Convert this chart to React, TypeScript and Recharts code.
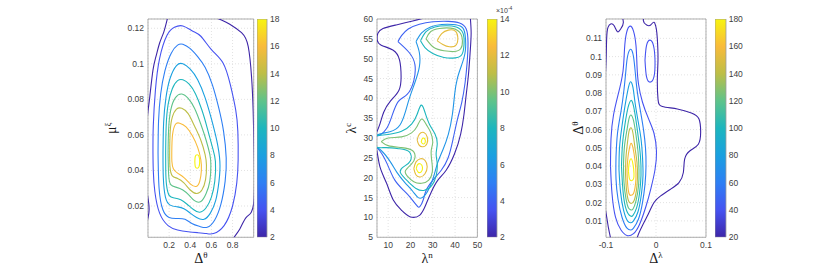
import React from 'react'
import {
  LineChart,
  Line,
  XAxis,
  YAxis,
  CartesianGrid,
  ReferenceArea,
  BarChart,
  Bar,
} from 'recharts'

type Pt = [number, number]
type Contour = { level: number; pts: Pt[]; closed: boolean }

// ---------- panel 1 : mu^xi vs Delta^theta ----------
const p1XTicks = [0.2, 0.4, 0.6, 0.8]
const p1YTicks = [0.02, 0.04, 0.06, 0.08, 0.1, 0.12]
const p1BarTicks = [2, 4, 6, 8, 10, 12, 14, 16, 18]

const p1Lvl2a: Pt[] = [[0.19, 0.127], [0.15, 0.118], [0.11, 0.1117], [0.075, 0.104], [0.047, 0.0964], [0.016, 0.081], [0, 0.0734], [-0.02, 0.062]]
const p1Lvl2b: Pt[] = [[0.6, 0.127], [0.7, 0.1245], [0.774, 0.1223], [0.885, 0.1175], [0.948, 0.1098], [0.98, 0.0925], [0.995, 0.0734], [1.005, 0.05], [1.0, 0.0215], [0.932, 0.0138], [0.869, 0.0071], [0.806, 0.0015], [0.79, -0.004]]
const p1Lvl2c: Pt[] = [[-0.02, 0.032], [0.006, 0.022], [0.008, 0.016], [-0.02, 0.008]]
const p1Lvl4: Pt[] = [[0.047, 0.05], [0.05, 0.065], [0.07, 0.085], [0.11, 0.103], [0.18, 0.116], [0.25, 0.1205], [0.33, 0.1213], [0.42, 0.1185], [0.5, 0.1155], [0.6, 0.108], [0.71, 0.1005], [0.78, 0.088], [0.83, 0.074], [0.85, 0.062], [0.853, 0.046], [0.84, 0.033], [0.8, 0.02], [0.72, 0.009], [0.62, 0.0045], [0.553, 0.0045], [0.47, 0.005], [0.38, 0.0055], [0.28, 0.0065], [0.19, 0.009], [0.11, 0.016], [0.065, 0.028], [0.05, 0.04]]
const p1Lvl6: Pt[] = [[0.095, 0.05], [0.1, 0.068], [0.12, 0.083], [0.16, 0.096], [0.22, 0.106], [0.28, 0.1105], [0.33, 0.111], [0.4, 0.1085], [0.47, 0.104], [0.54, 0.098], [0.61, 0.088], [0.67, 0.075], [0.715, 0.062], [0.74, 0.047], [0.73, 0.034], [0.69, 0.021], [0.63, 0.012], [0.56, 0.008], [0.49, 0.0085], [0.42, 0.01], [0.35, 0.0125], [0.28, 0.013], [0.2, 0.0135], [0.14, 0.018], [0.105, 0.03]]
const p1Lvl8: Pt[] = [[0.142, 0.05], [0.148, 0.067], [0.17, 0.081], [0.21, 0.092], [0.27, 0.099], [0.33, 0.1], [0.4, 0.097], [0.47, 0.091], [0.54, 0.081], [0.6, 0.069], [0.65, 0.057], [0.68, 0.045], [0.672, 0.034], [0.64, 0.023], [0.59, 0.016], [0.53, 0.0125], [0.46, 0.0135], [0.4, 0.016], [0.34, 0.0185], [0.28, 0.0195], [0.21, 0.0205], [0.165, 0.025], [0.145, 0.036]]
const p1Lvl10: Pt[] = [[0.167, 0.05], [0.172, 0.065], [0.19, 0.077], [0.23, 0.086], [0.28, 0.0905], [0.33, 0.091], [0.39, 0.0885], [0.45, 0.083], [0.51, 0.074], [0.56, 0.064], [0.61, 0.053], [0.638, 0.045], [0.632, 0.034], [0.6, 0.025], [0.55, 0.019], [0.49, 0.0165], [0.43, 0.018], [0.37, 0.021], [0.31, 0.0235], [0.25, 0.0245], [0.2, 0.026], [0.175, 0.032], [0.168, 0.04]]
const p1Lvl12: Pt[] = [[0.19, 0.05], [0.195, 0.063], [0.215, 0.074], [0.26, 0.081], [0.32, 0.083], [0.38, 0.0805], [0.44, 0.075], [0.5, 0.066], [0.55, 0.057], [0.585, 0.049], [0.595, 0.043], [0.585, 0.034], [0.55, 0.027], [0.5, 0.0225], [0.44, 0.023], [0.39, 0.026], [0.33, 0.029], [0.27, 0.0305], [0.215, 0.032], [0.195, 0.038]]
const p1Lvl14: Pt[] = [[0.205, 0.05], [0.21, 0.062], [0.23, 0.07], [0.27, 0.0745], [0.32, 0.075], [0.38, 0.072], [0.44, 0.065], [0.5, 0.057], [0.54, 0.049], [0.553, 0.043], [0.545, 0.035], [0.51, 0.029], [0.46, 0.027], [0.4, 0.029], [0.34, 0.033], [0.28, 0.0355], [0.23, 0.037], [0.208, 0.042]]
const p1Lvl16: Pt[] = [[0.225, 0.05], [0.232, 0.06], [0.26, 0.066], [0.3, 0.0666], [0.36, 0.0645], [0.42, 0.0595], [0.47, 0.053], [0.5, 0.046], [0.505, 0.04], [0.49, 0.034], [0.455, 0.031], [0.4, 0.0325], [0.34, 0.036], [0.28, 0.0385], [0.24, 0.041], [0.226, 0.045]]
const p1Lvl18: Pt[] = [[0.443, 0.045], [0.448, 0.048], [0.465, 0.0488], [0.482, 0.048], [0.489, 0.045], [0.482, 0.042], [0.465, 0.0412], [0.448, 0.042]]

// ---------- panel 2 : lambda^c vs lambda^n ----------
const p2XTicks = [10, 20, 30, 40, 50]
const p2YTicks = [5, 10, 15, 20, 25, 30, 35, 40, 45, 50, 55, 60]
const p2BarTicks = [2, 4, 6, 8, 10, 12, 14]

const p2Lvl2: Pt[] = [[27.7, 60.5], [21, 59.5], [13.6, 58.5], [7.7, 57.6], [5.4, 56.4], [5.1, 54.7], [6.9, 53.4], [12.1, 52.2], [15.1, 49.7], [15.8, 45.5], [14.8, 42], [11, 39.3], [8, 36.5], [6.3, 33.5], [4.5, 31], [3.5, 29], [4.85, 27], [6.3, 22.8], [9.3, 18.6], [12.3, 14.4], [16, 11.8], [19.7, 10.2], [24.2, 10.6], [27.1, 13.5], [29.4, 16.5], [32.3, 19.4], [36, 21.9], [39.8, 26.1], [42.5, 31], [44, 36], [45, 41], [46, 46], [46.8, 52], [47.2, 56.5], [46.8, 60.5]]
const p2Lvl4: Pt[] = [[14.4, 54.3], [16, 55.8], [19, 57.5], [24, 58.7], [30, 59.3], [37, 59.4], [42, 59], [45, 57.5], [45.8, 54], [45.4, 49], [44.5, 44], [43, 39], [41, 34.6], [39, 29.5], [36.8, 24.9], [33.8, 21.9], [30.1, 19.4], [27.1, 16.9], [25.7, 14.4], [24.2, 12.7], [22.7, 13.1], [19.7, 15.2], [16.8, 16.9], [13, 19.4], [10.1, 22.8], [7.1, 26.1], [4.5, 27.9], [3.5, 29], [4.5, 30.4], [6.4, 30.8], [9.3, 32.4], [11.6, 35.4], [14.5, 39.2], [18.5, 41], [21.5, 44.5], [22, 48.5], [19.5, 51.5]]
const p2Lvl6: Pt[] = [[22.5, 54.3], [25, 56.5], [29, 58], [34, 58.6], [39, 58.6], [43, 58], [44.5, 56], [44.6, 52], [43, 48.5], [41, 45], [39.8, 41], [38.8, 36], [37, 31], [34.5, 27], [32.2, 23.8], [30.5, 20.5], [28.5, 17.5], [26, 15.3], [23.5, 15], [21, 16.6], [17.5, 18.8], [14, 21.3], [11, 24], [7, 26.8], [4, 28.2], [4, 30.5], [10.8, 31.6], [15.3, 33.3], [17.5, 36.2], [19.5, 40], [22, 44], [24, 48], [24, 51.5]]
const p2Lvl8Top: Pt[] = [[24.5, 54.5], [27, 56.8], [31, 58], [36, 58.3], [40.5, 58], [43.5, 56.5], [44, 53.5], [43, 51], [40, 50.2], [35, 50.3], [30, 51.3], [26.5, 52.8]]
const p2Lvl8Low: Pt[] = [[4, 30.6], [10, 30.9], [16, 31.7], [20.5, 33.5], [23, 36], [24.8, 38.3], [26.5, 36.5], [28.5, 33.5], [31, 31], [32, 28.5], [31.5, 26], [32, 23.5], [31.5, 20.5], [29.5, 18], [26, 16.8], [22.5, 17.3], [19, 19], [15.5, 21.3], [17, 22.8], [20, 24.3], [19.5, 26.5], [15, 27.3], [9, 27.6], [4, 27.9]]
const p2Lvl10Top: Pt[] = [[27, 55], [29, 56.8], [33, 57.6], [38, 57.7], [42, 56.7], [43.3, 54.5], [42.5, 52.5], [39.5, 51.8], [35, 52], [30.5, 52.8]]
const p2Lvl10Low: Pt[] = [[6.9, 29.1], [10, 30], [16, 30.3], [20.5, 31.3], [23, 33], [25, 34.8], [27, 33.5], [29, 31.5], [30, 29], [29.3, 26.8], [29.6, 24], [29.8, 21.5], [28.2, 19.4], [25, 18.6], [21.5, 19], [18.5, 20.5], [17.8, 21.8], [20.5, 23.5], [22, 25], [21, 26.8], [16, 27.6], [10, 28.1]]
const p2Lvl12Top: Pt[] = [[32, 54.5], [34, 56.3], [37, 57.2], [40, 57], [41.2, 55.5], [40.5, 53.5], [37.5, 53], [34.5, 53.6]]
const p2Lvl12a: Pt[] = [[23, 29.5], [24, 31], [26, 31.4], [27.5, 30.3], [27.4, 28.6], [25.5, 27.8], [23.8, 28.3]]
const p2Lvl12b: Pt[] = [[21.5, 22.3], [22.5, 20.7], [24.5, 20.2], [26.5, 21], [27.5, 22.8], [26.5, 24.4], [24.5, 24.8], [22.5, 24]]
const p2Lvl14a: Pt[] = [[24.8, 29], [25.4, 29.9], [26.4, 29.8], [26.6, 28.9], [25.7, 28.5]]
const p2Lvl14b: Pt[] = [[22.6, 22.3], [23.5, 21.4], [24.8, 21.5], [25.4, 22.6], [24.5, 23.5], [23.2, 23.3]]

// ---------- panel 3 : Delta^theta vs Delta^lambda ----------
const p3XTicks = [-0.1, 0, 0.1]
const p3YTicks = [0.01, 0.02, 0.03, 0.04, 0.05, 0.06, 0.07, 0.08, 0.09, 0.1, 0.11]
const p3BarTicks = [20, 40, 60, 80, 100, 120, 140, 160, 180]

const p3Lvl20a: Pt[] = [[-0.106, 0.0767], [-0.1007, 0.093], [-0.0987, 0.1096], [-0.096, 0.116], [-0.0907, 0.1179], [-0.084, 0.117], [-0.0773, 0.1137], [-0.0707, 0.1151], [-0.0653, 0.1188], [-0.062, 0.123], [-0.03, 0.123], [-0.0253, 0.1197], [-0.0187, 0.1173], [-0.0107, 0.1173], [-0.004, 0.1188], [0.0007, 0.1151], [0.0027, 0.1096], [0.004, 0.0987], [0.0027, 0.0877], [0.004, 0.0767], [0.0127, 0.0727], [0.0427, 0.0713], [0.0707, 0.0691], [0.086, 0.0658], [0.0893, 0.0585], [0.0847, 0.052], [0.068, 0.0484], [0.0573, 0.0438], [0.0547, 0.0365], [0.046, 0.031], [0.0293, 0.0274], [0.0093, 0.0237], [-0.004, 0.0201], [-0.014, 0.0146], [-0.0273, 0.0073], [-0.0373, 0.001], [-0.04, -0.004]]
const p3Lvl20b: Pt[] = [[-0.104, 0.02], [-0.0985, 0.012], [-0.095, 0.006], [-0.0905, 0.0], [-0.089, -0.004]]
const p3Lvl40: Pt[] = [[-0.091, 0.04], [-0.09, 0.055], [-0.085, 0.068], [-0.075, 0.08], [-0.066, 0.092], [-0.063, 0.104], [-0.059, 0.113], [-0.052, 0.1167], [-0.045, 0.114], [-0.04, 0.106], [-0.038, 0.095], [-0.035, 0.085], [-0.027, 0.075], [-0.015, 0.066], [-0.004, 0.058], [0.001, 0.048], [-0.002, 0.038], [-0.01, 0.028], [-0.02, 0.018], [-0.033, 0.008], [-0.045, 0.003], [-0.058, 0.002], [-0.07, 0.005], [-0.081, 0.012], [-0.088, 0.025]]
const p3Lvl40b: Pt[] = [[-0.022, 0.098], [-0.019, 0.106], [-0.012, 0.109], [-0.005, 0.106], [-0.002, 0.098], [-0.004, 0.089], [-0.012, 0.086], [-0.019, 0.089]]
const p3Lvl60: Pt[] = [[-0.08, 0.045], [-0.077, 0.058], [-0.07, 0.07], [-0.064, 0.082], [-0.06, 0.093], [-0.057, 0.1], [-0.051, 0.104], [-0.045, 0.1], [-0.041, 0.09], [-0.037, 0.08], [-0.031, 0.07], [-0.025, 0.06], [-0.021, 0.05], [-0.02, 0.04], [-0.022, 0.03], [-0.027, 0.02], [-0.035, 0.011], [-0.045, 0.006], [-0.05, 0.005], [-0.058, 0.006], [-0.068, 0.012], [-0.076, 0.022], [-0.08, 0.033]]
const p3Lvl80: Pt[] = [[-0.074, 0.038], [-0.073, 0.05], [-0.068, 0.062], [-0.062, 0.073], [-0.056, 0.082], [-0.051, 0.0862], [-0.046, 0.083], [-0.042, 0.075], [-0.036, 0.065], [-0.03, 0.055], [-0.027, 0.045], [-0.026, 0.035], [-0.029, 0.025], [-0.036, 0.015], [-0.045, 0.01], [-0.05, 0.009], [-0.057, 0.01], [-0.065, 0.016], [-0.071, 0.026]]
const p3Lvl100: Pt[] = [[-0.069, 0.04], [-0.067, 0.052], [-0.062, 0.063], [-0.056, 0.072], [-0.05, 0.076], [-0.045, 0.073], [-0.04, 0.065], [-0.035, 0.055], [-0.031, 0.045], [-0.03, 0.035], [-0.033, 0.025], [-0.039, 0.017], [-0.046, 0.013], [-0.05, 0.0125], [-0.056, 0.014], [-0.063, 0.02], [-0.067, 0.03]]
const p3Lvl120: Pt[] = [[-0.065, 0.041], [-0.063, 0.051], [-0.058, 0.06], [-0.054, 0.066], [-0.05, 0.068], [-0.045, 0.065], [-0.04, 0.057], [-0.036, 0.048], [-0.034, 0.038], [-0.035, 0.029], [-0.04, 0.021], [-0.046, 0.0165], [-0.05, 0.016], [-0.055, 0.017], [-0.06, 0.022], [-0.064, 0.031]]
const p3Lvl140: Pt[] = [[-0.061, 0.036], [-0.06, 0.045], [-0.057, 0.053], [-0.054, 0.059], [-0.05, 0.061], [-0.046, 0.058], [-0.042, 0.05], [-0.038, 0.042], [-0.037, 0.034], [-0.039, 0.027], [-0.044, 0.021], [-0.05, 0.0195], [-0.055, 0.021], [-0.059, 0.027]]
const p3Lvl160: Pt[] = [[-0.058, 0.038], [-0.056, 0.045], [-0.053, 0.05], [-0.05, 0.0525], [-0.046, 0.05], [-0.042, 0.043], [-0.04, 0.036], [-0.041, 0.03], [-0.045, 0.025], [-0.05, 0.024], [-0.054, 0.025], [-0.057, 0.031]]
const p3Lvl180: Pt[] = [[-0.055, 0.037], [-0.054, 0.041], [-0.05, 0.044], [-0.046, 0.041], [-0.044, 0.036], [-0.045, 0.033], [-0.049, 0.032], [-0.053, 0.033]]

const p1Contours: Contour[] = [
  { level: 2, pts: p1Lvl2a, closed: false },
  { level: 2, pts: p1Lvl2b, closed: false },
  { level: 2, pts: p1Lvl2c, closed: false },
  { level: 4, pts: p1Lvl4, closed: true },
  { level: 6, pts: p1Lvl6, closed: true },
  { level: 8, pts: p1Lvl8, closed: true },
  { level: 10, pts: p1Lvl10, closed: true },
  { level: 12, pts: p1Lvl12, closed: true },
  { level: 14, pts: p1Lvl14, closed: true },
  { level: 16, pts: p1Lvl16, closed: true },
  { level: 18, pts: p1Lvl18, closed: true },
]

const p2Contours: Contour[] = [
  { level: 2, pts: p2Lvl2, closed: false },
  { level: 4, pts: p2Lvl4, closed: true },
  { level: 6, pts: p2Lvl6, closed: true },
  { level: 8, pts: p2Lvl8Top, closed: true },
  { level: 8, pts: p2Lvl8Low, closed: true },
  { level: 10, pts: p2Lvl10Top, closed: true },
  { level: 10, pts: p2Lvl10Low, closed: true },
  { level: 12, pts: p2Lvl12Top, closed: true },
  { level: 12, pts: p2Lvl12a, closed: true },
  { level: 12, pts: p2Lvl12b, closed: true },
  { level: 14, pts: p2Lvl14a, closed: true },
  { level: 14, pts: p2Lvl14b, closed: true },
]

const p3Contours: Contour[] = [
  { level: 20, pts: p3Lvl20a, closed: false },
  { level: 20, pts: p3Lvl20b, closed: false },
  { level: 40, pts: p3Lvl40, closed: true },
  { level: 40, pts: p3Lvl40b, closed: true },
  { level: 60, pts: p3Lvl60, closed: true },
  { level: 80, pts: p3Lvl80, closed: true },
  { level: 100, pts: p3Lvl100, closed: true },
  { level: 120, pts: p3Lvl120, closed: true },
  { level: 140, pts: p3Lvl140, closed: true },
  { level: 160, pts: p3Lvl160, closed: true },
  { level: 180, pts: p3Lvl180, closed: true },
]

// parula-like colormap
const parulaStops = ['#3E26A8', '#4653F1', '#2E7FF4', '#1AA0E0', '#1DB6BE', '#5EC38A', '#BDBE47', '#F9BB3A', '#F7F40F']

const hex = (c: string) => [1, 3, 5].map((i) => parseInt(c.slice(i, i + 2), 16))

const parula = (t: number) => {
  const s = Math.max(0, Math.min(1, t)) * (parulaStops.length - 1)
  const i = Math.min(Math.floor(s), parulaStops.length - 2)
  const f = s - i
  const a = hex(parulaStops[i])
  const b = hex(parulaStops[i + 1])
  const m = a.map((v, k) => Math.round(v + (b[k] - v) * f))
  return `rgb(${m[0]},${m[1]},${m[2]})`
}

const FONT = '"Liberation Sans", Arial, Helvetica, sans-serif'
const SERIF = '"Liberation Serif", "Times New Roman", serif'
const tickStyle = { fontFamily: FONT, fontSize: 8.5, fill: '#404040' }
const BOX = '#9a9a9a'

const rows = (c: Contour) => {
  const r = c.pts.map(([x, y]) => ({ x, y }))
  if (c.closed) r.push({ x: c.pts[0][0], y: c.pts[0][1] })
  return r
}

const MathText = ({ x, y, base, sup, rotate }: { x: number; y: number; base: string; sup: string; rotate?: boolean }) => (
  <text
    x={x}
    y={y}
    textAnchor="middle"
    fontFamily={SERIF}
    fontSize={14}
    fill="#1a1a1a"
    transform={rotate ? `rotate(-90 ${x} ${y})` : undefined}
  >
    <tspan>{base}</tspan>
    <tspan dy={-5} fontSize={9}>
      {sup}
    </tspan>
  </text>
)

interface PanelProps {
  left: number
  top: number
  plotW: number
  plotH: number
  xDomain: [number, number]
  yDomain: [number, number]
  xTicks: number[]
  yTicks: number[]
  contours: Contour[]
  cMin: number
  cMax: number
  xLabel: [string, string]
  yLabel: [string, string]
  yLabelOffset: number
}

const YW = 60
const XH = 35
const MARGIN = { top: 5, right: 14, bottom: 0, left: 0 }

const Panel: React.FC<PanelProps> = (p) => (
  <div style={{ position: 'absolute', left: p.left - YW, top: p.top - MARGIN.top }}>
    <LineChart width={p.plotW + YW + MARGIN.right} height={p.plotH + MARGIN.top + XH} margin={MARGIN}>
      <CartesianGrid stroke="#e2e2e2" strokeDasharray="1 2" />
      <XAxis
        type="number"
        dataKey="x"
        domain={p.xDomain}
        ticks={p.xTicks}
        interval={0}
        allowDataOverflow
        height={XH}
        axisLine={false}
        tickLine={false}
        tickSize={3}
        tickMargin={2}
        tick={tickStyle}
        label={{
          content: (lp: any) => {
            const vb = lp.viewBox
            return <MathText x={vb.x + vb.width / 2} y={vb.y + 26} base={p.xLabel[0]} sup={p.xLabel[1]} />
          },
        }}
      />
      <YAxis
        type="number"
        domain={p.yDomain}
        ticks={p.yTicks}
        interval={0}
        allowDataOverflow
        width={YW}
        axisLine={false}
        tickLine={false}
        tickSize={2}
        tickMargin={2}
        tick={tickStyle}
        label={{
          content: (lp: any) => {
            const vb = lp.viewBox
            return (
              <MathText
                x={vb.x + vb.width - p.yLabelOffset}
                y={vb.y + vb.height / 2}
                base={p.yLabel[0]}
                sup={p.yLabel[1]}
                rotate
              />
            )
          },
        }}
      />
      {p.contours.map((c, i) => (
        <Line
          key={i}
          data={rows(c)}
          dataKey="y"
          type="natural"
          dot={false}
          activeDot={false}
          stroke={parula((c.level - p.cMin) / (p.cMax - p.cMin))}
          strokeWidth={1.1}
          isAnimationActive={false}
        />
      ))}
      <ReferenceArea
        x1={p.xDomain[0]}
        x2={p.xDomain[1]}
        y1={p.yDomain[0]}
        y2={p.yDomain[1]}
        ifOverflow="visible"
        fill="none"
        stroke={BOX}
        strokeWidth={0.8}
      />
    </LineChart>
  </div>
)

interface ColorBarProps {
  id: string
  left: number
  top: number
  width: number
  height: number
  ticks: number[]
}

const ColorBar: React.FC<ColorBarProps> = ({ id, left, top, width, height, ticks }) => {
  const min = ticks[0]
  const max = ticks[ticks.length - 1]
  const data = [{ name: 'cb', span: [min, max] }]
  return (
    <div style={{ position: 'absolute', left, top: top - 5 }}>
      <BarChart
        width={width + 30}
        height={height + 10}
        data={data}
        margin={{ top: 5, right: 0, bottom: 5, left: 0 }}
        barCategoryGap={0}
      >
        <defs>
          <linearGradient id={id} x1="0" y1="1" x2="0" y2="0">
            {parulaStops.map((c, i) => (
              <stop key={i} offset={i / (parulaStops.length - 1)} stopColor={c} />
            ))}
          </linearGradient>
        </defs>
        <XAxis dataKey="name" hide />
        <YAxis
          orientation="right"
          type="number"
          domain={[min, max]}
          ticks={ticks}
          interval={0}
          allowDataOverflow
          width={30}
          axisLine={false}
          tickLine={false}
          tickSize={1}
          tickMargin={2}
          tick={tickStyle}
        />
        <Bar dataKey="span" fill={`url(#${id})`} stroke={BOX} strokeWidth={0.8} isAnimationActive={false} />
      </BarChart>
    </div>
  )
}

const App: React.FC = () => (
  <div
    style={{
      position: 'absolute',
      left: 0,
      top: 0,
      width: 814,
      height: 267,
      background: '#fff',
      overflow: 'hidden',
    }}
  >
    <Panel
      left={148.3}
      top={19}
      plotW={105.7}
      plotH={218.3}
      xDomain={[0, 1]}
      yDomain={[0.0024, 0.1252]}
      xTicks={p1XTicks}
      yTicks={p1YTicks}
      contours={p1Contours}
      cMin={2}
      cMax={18}
      xLabel={['Δ', 'θ']}
      yLabel={['μ', 'ξ']}
      yLabelOffset={32}
    />
    <ColorBar id="cb1" left={257.3} top={19} width={10} height={218.3} ticks={p1BarTicks} />

    <Panel
      left={377.3}
      top={19}
      plotW={100.4}
      plotH={218.3}
      xDomain={[5, 50]}
      yDomain={[5, 60]}
      xTicks={p2XTicks}
      yTicks={p2YTicks}
      contours={p2Contours}
      cMin={2}
      cMax={14}
      xLabel={['λ', 'n']}
      yLabel={['λ', 'c']}
      yLabelOffset={20.5}
    />
    <ColorBar id="cb2" left={486.7} top={19} width={10} height={218.3} ticks={p2BarTicks} />
    <svg style={{ position: 'absolute', left: 494, top: 3 }} width={30} height={14}>
      <text x={2} y={10} fontFamily={FONT} fontSize={7} fill="#404040">
        <tspan>×10</tspan>
        <tspan dy={-3} fontSize={5}>
          -4
        </tspan>
      </text>
    </svg>

    <Panel
      left={606}
      top={19}
      plotW={100}
      plotH={218.3}
      xDomain={[-0.1, 0.1]}
      yDomain={[0.001, 0.1206]}
      xTicks={p3XTicks}
      yTicks={p3YTicks}
      contours={p3Contours}
      cMin={20}
      cMax={180}
      xLabel={['Δ', 'λ']}
      yLabel={['Δ', 'θ']}
      yLabelOffset={23}
    />
    <ColorBar id="cb3" left={715.3} top={19} width={10.7} height={218.3} ticks={p3BarTicks} />
  </div>
)

export default App
